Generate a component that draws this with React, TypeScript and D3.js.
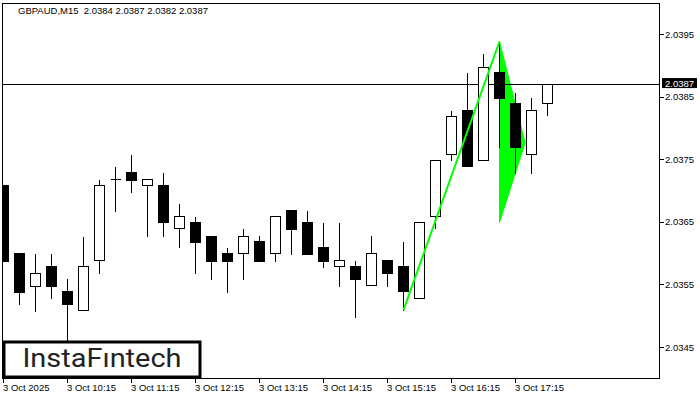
import React from "react";
import * as d3 from "d3";

const symbolTitle = "GBPAUD,M15  2.0384 2.0387 2.0382 2.0387";
const opens = [2.03709, 2.0360, 2.03548, 2.03579, 2.03539, 2.03509, 2.03589, 2.03718, 2.03729, 2.03708, 2.03709, 2.0364, 2.0365, 2.03628, 2.0360, 2.0360, 2.03619, 2.0360, 2.03669, 2.0365, 2.0361, 2.03579, 2.03579, 2.03549, 2.03589, 2.03579, 2.03529, 2.03659, 2.03758, 2.03829, 2.03748, 2.03889, 2.03839, 2.03758, 2.0384];
const highs = [2.03709, 2.0360, 2.0360, 2.0360, 2.0356, 2.03628, 2.03718, 2.03739, 2.03758, 2.03718, 2.03729, 2.0368, 2.03659, 2.03628, 2.0361, 2.0364, 2.03629, 2.03659, 2.03669, 2.03669, 2.0365, 2.0365, 2.03589, 2.03629, 2.03589, 2.03619, 2.0365, 2.03748, 2.03829, 2.03889, 2.03919, 2.03938, 2.03858, 2.03849, 2.0387];
const lows = [2.03587, 2.03519, 2.03508, 2.03529, 2.0346, 2.03509, 2.03569, 2.03668, 2.03698, 2.03628, 2.03628, 2.03609, 2.03569, 2.03559, 2.03538, 2.03559, 2.03588, 2.03588, 2.03599, 2.03599, 2.03578, 2.03548, 2.03498, 2.03549, 2.03548, 2.03509, 2.03529, 2.0364, 2.03748, 2.03739, 2.03748, 2.03769, 2.03728, 2.03728, 2.0382];
const closes = [2.03587, 2.03538, 2.03569, 2.03548, 2.03519, 2.03579, 2.03708, 2.03718, 2.03717, 2.03718, 2.03649, 2.03659, 2.03618, 2.03588, 2.03588, 2.03628, 2.03588, 2.03659, 2.03639, 2.03599, 2.03588, 2.03589, 2.03559, 2.0360, 2.03569, 2.03539, 2.03649, 2.03748, 2.03819, 2.03739, 2.03898, 2.03848, 2.03769, 2.03828, 2.0387];

const priceTicks = [2.0345, 2.0355, 2.0365, 2.0375, 2.0385, 2.0395];
const timeTickIndex = [0, 4, 8, 12, 16, 20, 24, 28, 32];
const timeTickLabels = ["3 Oct 2025", "3 Oct 10:15", "3 Oct 11:15", "3 Oct 12:15", "3 Oct 13:15", "3 Oct 14:15", "3 Oct 15:15", "3 Oct 16:15", "3 Oct 17:15"];
const currentPrice = 2.0387;

// Bullish pennant pattern: pole and flag (candle index, price)
const poleIdx = [25, 31];
const polePrice = [2.03509, 2.03938];
const flagIdx = [31, 32.6, 31];
const flagPrice = [2.03938, 2.03776, 2.03649];

const FONT = "'Liberation Sans', Arial, sans-serif";

export default function App() {
  const W = 700, H = 400;
  const left = 2, right = 659, top = 3, bottom = 378;
  const x = d3.scaleLinear().domain([0, 1]).range([3, 19]);
  const y = d3.scaleLinear().domain([2.0345, 2.0395]).range([347, 34]);
  const snap = (v: number) => Math.round(v) + 0.5;

  const poleLine = d3.line<number>().x((d, i) => x(poleIdx[i]) + 0.5).y((d) => y(d));
  const flagArea = d3.line<number>().x((d, i) => x(flagIdx[i]) + 0.5).y((d) => y(d));

  return (
    <svg width={W} height={H} style={{ position: "absolute", left: 0, top: 0, background: "#fff" }}>
      <defs>
        <clipPath id="plot">
          <rect x={left} y={top} width={right - left} height={bottom - top} />
        </clipPath>
      </defs>
      <rect x={0} y={0} width={W} height={H} fill="#fff" />
      <g clipPath="url(#plot)">
        <path d={flagArea(flagPrice) + "Z"} fill="#00ff00" stroke="#00ff00" strokeWidth={1} />
        <line x1={left} x2={right} y1={snap(y(currentPrice))} y2={snap(y(currentPrice))} stroke="#000" strokeWidth={1} />
        {opens.map((o, i) => {
          const c = closes[i];
          const cx = Math.round(x(i)) + 0.5;
          const yTop = snap(y(Math.max(o, c)));
          const yBot = snap(y(Math.min(o, c)));
          const bear = c < o;
          const doji = yBot - yTop < 1;
          return (
            <g key={i} shapeRendering="crispEdges">
              <line x1={cx} x2={cx} y1={snap(y(highs[i]))} y2={snap(y(lows[i]))} stroke="#000" strokeWidth={1} />
              {doji ? (
                <line x1={cx - 5} x2={cx + 5} y1={yTop} y2={yTop} stroke="#000" strokeWidth={1} />
              ) : (
                <rect x={cx - 5} y={yTop} width={10} height={yBot - yTop} fill={bear ? "#000" : "#fff"} stroke="#000" strokeWidth={1} />
              )}
            </g>
          );
        })}
        <path d={poleLine(polePrice) || ""} fill="none" stroke="#00ff00" strokeWidth={2} />
      </g>
      <rect x={left + 0.5} y={top + 0.5} width={right - left} height={bottom - top} fill="none" stroke="#000" strokeWidth={1} shapeRendering="crispEdges" />
      <text x={18} y={14} fontFamily={FONT} fontSize={9.5} fill="#000" style={{ whiteSpace: "pre" }}>{symbolTitle}</text>
      {priceTicks.map((p) => (
        <g key={p}>
          <line x1={right + 0.5} x2={right + 4.5} y1={snap(y(p))} y2={snap(y(p))} stroke="#000" shapeRendering="crispEdges" />
          <text x={665} y={y(p) + 3.5} fontFamily={FONT} fontSize={9.5} fill="#000">{p.toFixed(4)}</text>
        </g>
      ))}
      <rect x={662} y={y(currentPrice) - 6} width={35} height={10} fill="#000" />
      <text x={665} y={y(currentPrice) + 3} fontFamily={FONT} fontSize={9.5} fill="#fff">{currentPrice.toFixed(4)}</text>
      {timeTickIndex.map((t, k) => (
        <g key={t}>
          <line x1={Math.round(x(t)) + 0.5} x2={Math.round(x(t)) + 0.5} y1={bottom} y2={bottom + 5} stroke="#000" shapeRendering="crispEdges" />
          <text x={Math.round(x(t))} y={391} fontFamily={FONT} fontSize={9.5} fill="#000">{timeTickLabels[k]}</text>
        </g>
      ))}
      <rect x={4} y={342} width={196} height={35} fill="#fff" stroke="#000" strokeWidth={3} />
      <text x={102} y={367} textAnchor="middle" fontFamily="Roboto, sans-serif" fontWeight={400} fontSize={25} textLength={159} lengthAdjust="spacingAndGlyphs" fill="#222">InstaFıntech</text>
    </svg>
  );
}
